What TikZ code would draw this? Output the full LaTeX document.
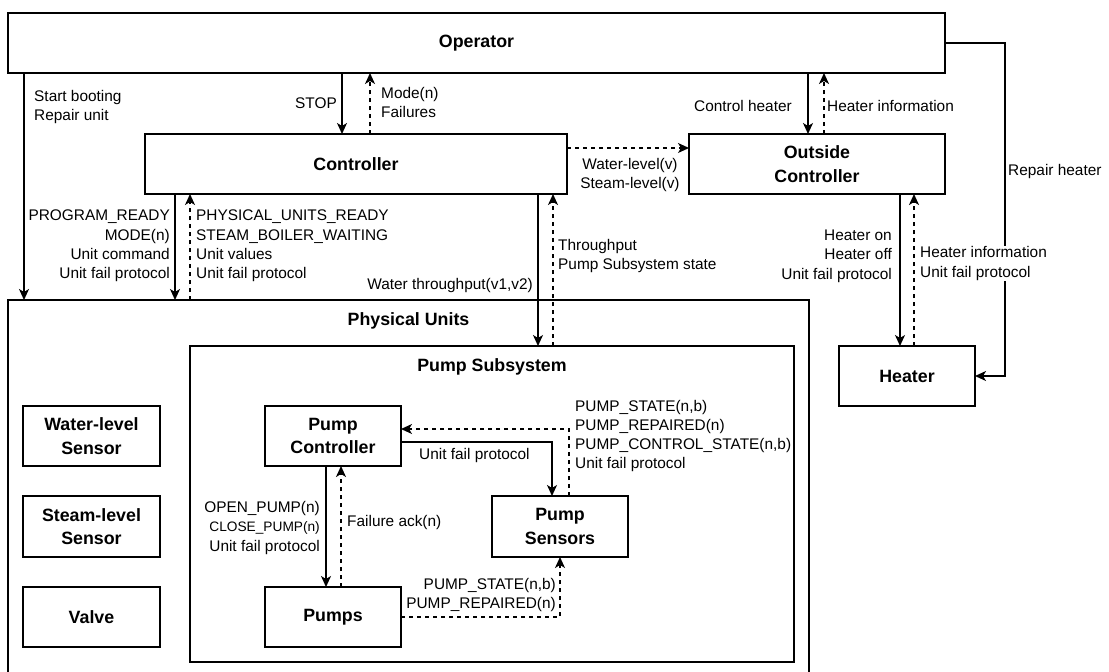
\documentclass[tikz,border=0pt]{standalone}
\usepackage{fontspec}
\setmainfont{Liberation Sans}
\usetikzlibrary{arrows.meta}
\begin{document}
\begin{tikzpicture}[x=1pt,y=-1pt,
  box/.style={draw, line width=1.5pt, inner sep=0pt, outer sep=0pt, align=center,
    font=\fontsize{17.8}{23.5}\selectfont\bfseries},
  ttl/.style={inner sep=0pt, font=\fontsize{17.8}{23.5}\selectfont\bfseries},
  lbl/.style={inner sep=0pt, font=\fontsize{15.4}{19.3}\selectfont},
  flow/.style={line width=1.5pt, -{Stealth[length=11pt,width=10pt,inset=3pt]}},
  back/.style={flow, dash pattern=on 4pt off 4pt},
]
\useasboundingbox (0,0) rectangle (1109,672);
\clip (0,0) rectangle (1109,672);

% ---------- boxes ----------
\node[box, minimum width=937pt, minimum height=60pt] (op)   at (476.5,43) {Operator};
\node[box, minimum width=422pt, minimum height=60pt] (ctrl) at (356,164) {Controller};
\node[box, minimum width=256pt, minimum height=60pt] (outc) at (817,164) {Outside\\Controller};
\node[box, minimum width=136pt, minimum height=60pt] (heater) at (907,376) {Heater};

\node[box, minimum width=801pt, minimum height=374pt] (pu) at (408.5,487) {};
\node[ttl] (putitle) at (408.5,321) {Physical Units};
\node[box, minimum width=604pt, minimum height=316pt] (ps) at (492,504) {};
\node[ttl] (pstitle) at (492,367) {Pump Subsystem};

\node[box, minimum width=137pt, minimum height=60pt] (wl) at (91.5,436) {Water-level\\Sensor};
\node[box, minimum width=137pt, minimum height=61pt] (sl) at (91.5,526.5) {Steam-level\\Sensor};
\node[box, minimum width=137pt, minimum height=60pt] (valve) at (91.5,617) {Valve};

\node[box, minimum width=136pt, minimum height=60pt] (pc) at (333,436) {Pump\\Controller};
\node[box, minimum width=136pt, minimum height=60pt] (pumps) at (333,617) {Pumps};
\node[box, minimum width=136pt, minimum height=61pt] (psens) at (560,526.5) {Pump\\Sensors};

% ---------- connector columns / rows ----------
\coordinate (xboot) at (24,0);
\coordinate (xstop) at (342,0);
\coordinate (xmode) at (370,0);
\coordinate (xch) at (808,0);
\coordinate (xhi) at (824,0);
\coordinate (xrep) at (1005,0);
\coordinate (yfwd) at (0,148);
\coordinate (xcmd) at (175,0);
\coordinate (xrdy) at (190,0);
\coordinate (xwt) at (538,0);
\coordinate (xtp) at (553,0);
\coordinate (xhon) at (900,0);
\coordinate (xhinfo) at (914,0);
\coordinate (xopen) at (326,0);
\coordinate (xack) at (341,0);
\coordinate (xsens) at (569,0);
\coordinate (ysens) at (0,429);
\coordinate (xufp) at (552,0);
\coordinate (yufp) at (0,442);
\coordinate (xpst) at (560,0);

% ---------- connectors ----------
\draw[flow] (op.south -| xboot) -- (pu.north -| xboot);
\draw[flow] (op.south -| xstop) -- (ctrl.north -| xstop);
\draw[back] (ctrl.north -| xmode) -- (op.south -| xmode);
\draw[back] (ctrl.east |- yfwd) -- (outc.west |- yfwd);
\draw[flow] (op.south -| xch) -- (outc.north -| xch);
\draw[back] (outc.north -| xhi) -- (op.south -| xhi);
\draw[flow] (op.east) -- (op.east -| xrep) |- (heater.east);

\draw[flow] (ctrl.south -| xcmd) -- (pu.north -| xcmd);
\draw[back] (pu.north -| xrdy) -- (ctrl.south -| xrdy);
\draw[flow] (ctrl.south -| xwt) -- (ps.north -| xwt);
\draw[back] (ps.north -| xtp) -- (ctrl.south -| xtp);
\draw[flow] (outc.south -| xhon) -- (heater.north -| xhon);
\draw[back] (heater.north -| xhinfo) -- (outc.south -| xhinfo);

\draw[flow] (pc.south -| xopen) -- (pumps.north -| xopen);
\draw[back] (pumps.north -| xack) -- (pc.south -| xack);
\draw[back] (psens.north -| xsens) |- (pc.east |- ysens);
\draw[flow] (pc.east |- yufp) -| (psens.north -| xufp);
\draw[back] (pumps.east) -| (psens.south -| xpst);

% ---------- connector labels ----------
\node[lbl, anchor=west, align=left] (lboot) at (34,107) {Start booting\\Repair unit};
\node[lbl, anchor=east] (lstop) at (337,103) {STOP};
\node[lbl, anchor=west, align=left] (lmode) at (381,102.5) {Mode(n)\\Failures};
\node[lbl, anchor=east] (lch) at (792,106) {Control heater};
\node[lbl, anchor=west] (lhi) at (827,106) {Heater information};
\node[lbl, align=center] (llevel) at (630,175) {Water-level(v)\\Steam-level(v)};
\node[lbl, anchor=west] (lrep) at (1008,172) {Repair heater};

\node[lbl, anchor=east, align=right] (lcmd) at (170,246) {PROGRAM\_READY\\MODE(n)\\Unit command\\Unit fail protocol};
\node[lbl, anchor=west, align=left] (lrdy) at (196,246) {PHYSICAL\_UNITS\_READY\\STEAM\_BOILER\_WAITING\\Unit values\\Unit fail protocol};
\node[lbl, anchor=east] (lwt) at (533,286) {Water throughput(v1,v2)};
\node[lbl, anchor=west, align=left] (ltp) at (558,256) {Throughput\\Pump Subsystem state};
\node[lbl, anchor=east, align=right] (lhon) at (892,256) {Heater on\\Heater off\\Unit fail protocol};
\node[lbl, anchor=west, align=left, fill=white, inner sep=1pt] (lhinfo) at (919,263.5) {Heater information\\Unit fail protocol};

\node[lbl, anchor=west, align=left] (lsens) at (575,436) {PUMP\_STATE(n,b)\\PUMP\_REPAIRED(n)\\PUMP\_CONTROL\_STATE(n,b)\\Unit fail protocol};
\node[lbl, anchor=west] (lufp) at (419,456) {Unit fail protocol};
\node[lbl, anchor=east, align=right] (lopen) at (320,528) {OPEN\_PUMP(n)\\{\fontsize{13.7}{19.3}\selectfont CLOSE\_PUMP(n)}\\Unit fail protocol};
\node[lbl, anchor=west] (lack) at (347,523) {Failure ack(n)};
\node[lbl, anchor=east, align=right] (lpst) at (556,595) {PUMP\_STATE(n,b)\\PUMP\_REPAIRED(n)};
\end{tikzpicture}
\end{document}
